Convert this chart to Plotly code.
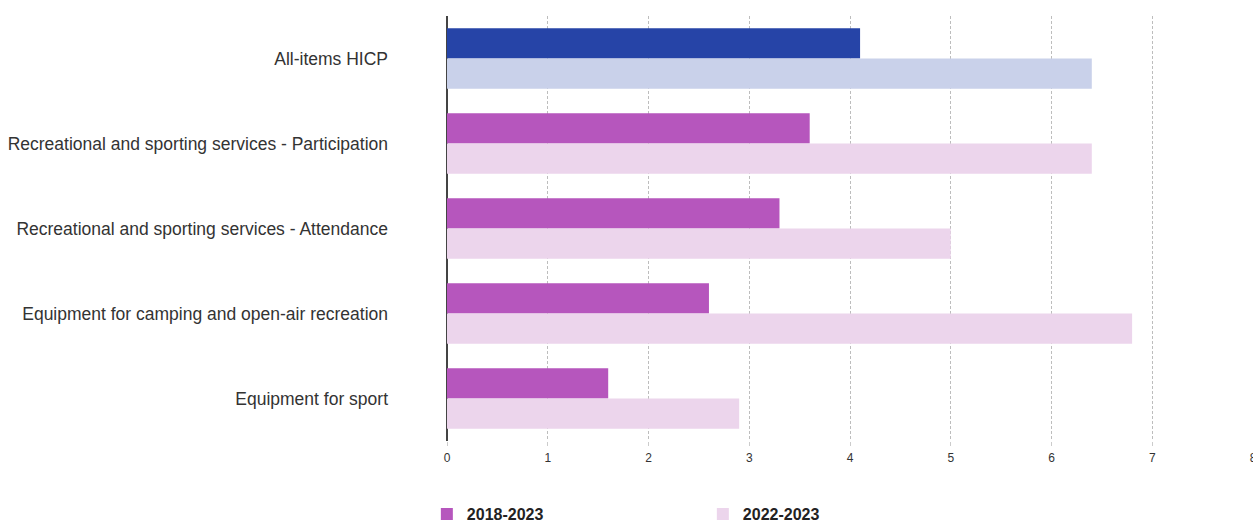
import plotly.graph_objects as go

categories = [
    "Equipment for sport",
    "Equipment for camping and open-air recreation",
    "Recreational and sporting services - Attendance",
    "Recreational and sporting services - Participation",
    "All-items HICP",
]
series_names = ["2018-2023", "2022-2023"]
values_2018_2023 = [1.6, 2.6, 3.3, 3.6, 4.1]
values_2022_2023 = [2.9, 6.8, 5.0, 6.4, 6.4]
x_ticks = [0, 1, 2, 3, 4, 5, 6, 7, 8]

dark_colors = ["#B656BD"] * 4 + ["#2644A7"]
light_colors = ["#ECD5EC"] * 4 + ["#C9D1EA"]

fig = go.Figure()
fig.add_trace(go.Bar(
    y=categories, x=values_2018_2023, orientation="h", name=series_names[0],
    marker=dict(color=dark_colors, line=dict(width=0)),
))
fig.add_trace(go.Bar(
    y=categories, x=values_2022_2023, orientation="h", name=series_names[1],
    marker=dict(color=light_colors, line=dict(width=0)),
))

fig.update_layout(
    width=1253, height=525,
    margin=dict(l=447, r=0, t=16, b=84, autoexpand=False),
    paper_bgcolor="white", plot_bgcolor="white",
    barmode="group", bargap=0.29, bargroupgap=0,
    font=dict(family="Liberation Sans, Arial, sans-serif", color="#333333"),
    showlegend=True,
    legend=dict(
        orientation="h", x=-0.025, xanchor="left", xref="paper",
        y=-0.172, yanchor="middle", yref="paper",
        font=dict(size=16, color="#222222", weight="bold"),
        entrywidth=231, entrywidthmode="pixels",
        itemclick=False, traceorder="normal",
        tracegroupgap=0, borderwidth=0,
    ),
    xaxis=dict(
        range=[0, 8], tickvals=x_ticks, ticktext=[str(t) for t in x_ticks],
        showgrid=True, gridcolor="#bdbdbd", griddash="3px,2px", gridwidth=1,
        zeroline=True, zerolinecolor="#444444", zerolinewidth=1.5,
        ticks="outside", ticklen=4, tickcolor="#cccccc",
        tickfont=dict(size=12, color="#333333"), ticklabelstandoff=2,
        ticklabeloverflow="allow",
        showline=False, fixedrange=True,
    ),
    yaxis=dict(
        categoryorder="array", categoryarray=categories[::-1],
        autorange="reversed",
        tickfont=dict(size=17.5, color="#333333"),
        ticklabelstandoff=58, ticks="", showgrid=False, showline=False,
        fixedrange=True,
    ),
)

fig.write_html("out.html")
